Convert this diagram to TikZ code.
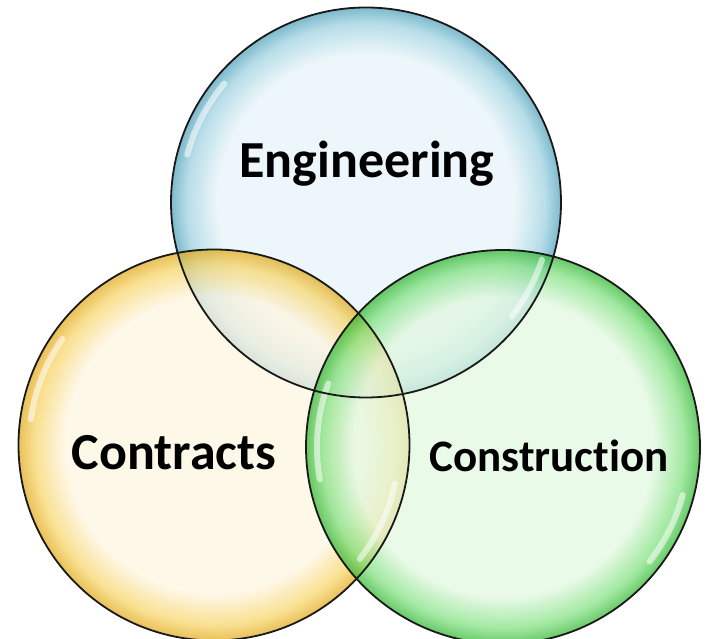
\documentclass[tikz,border=0pt]{standalone}
\usepackage{fontspec}
\setmainfont{Carlito}[Ligatures=NoCommon]
\definecolor{engfill}{HTML}{E6F3F8}
\definecolor{engrim}{HTML}{9BD0E0}
\definecolor{engdeep}{HTML}{4C9FB8}
\definecolor{conFill}{HTML}{FEF5E0}
\definecolor{conrim}{HTML}{F7D465}
\definecolor{condeep}{HTML}{E0A818}
\definecolor{cstfill}{HTML}{E2F8E0}
\definecolor{cstrim}{HTML}{7EE07E}
\definecolor{cstdeep}{HTML}{2FB52F}
\pgfdeclareradialshading{engball}{\pgfpoint{0bp}{0bp}}{color(0bp)=(engfill); color(19bp)=(engfill); color(23bp)=(engrim); color(25bp)=(engdeep); color(50bp)=(engdeep)}
\pgfdeclareradialshading{conball}{\pgfpoint{0bp}{0bp}}{color(0bp)=(conFill); color(19bp)=(conFill); color(23bp)=(conrim); color(25bp)=(condeep); color(50bp)=(condeep)}
\pgfdeclareradialshading{cstball}{\pgfpoint{0bp}{0bp}}{color(0bp)=(cstfill); color(19bp)=(cstfill); color(23bp)=(cstrim); color(25bp)=(cstdeep); color(50bp)=(cstdeep)}
\begin{document}
\begin{tikzpicture}[x=1pt,y=1pt,
ball/.style={circle,fill opacity=0.72,inner sep=0pt,outer sep=0pt},
rim/.style={draw=black!90,line width=1.8pt},
gloss/.style={white,line width=6pt,opacity=0.55,line cap=round},
tag/.style={anchor=base,inner sep=0pt,font=\bfseries\fontsize{52}{56}\selectfont}
]
\useasboundingbox (0,0) rectangle (709,639);
\node[ball,minimum size=390pt,shade,shading=engball] (eng) at (366,436.5) {};
\node[ball,minimum size=391pt,shade,shading=conball] (con) at (214,194) {};
\node[ball,minimum size=394pt,shade,shading=cstball] (cst) at (503,192) {};
\draw[gloss] (eng.center) ++(140:185) arc[start angle=140,end angle=165,radius=185];
\draw[gloss] (eng.center) ++(-18:185) arc[start angle=-18,end angle=-38,radius=185];
\draw[gloss] (con.center) ++(145:185) arc[start angle=145,end angle=172,radius=185];
\draw[gloss] (con.center) ++(-12:185) arc[start angle=-12,end angle=-38,radius=185];
\draw[gloss] (cst.center) ++(160:186) arc[start angle=160,end angle=190,radius=186];
\draw[gloss] (cst.center) ++(-15:186) arc[start angle=-15,end angle=-38,radius=186];
\draw[rim] (eng.center) circle[radius=195];
\draw[rim] (con.center) circle[radius=195.5];
\draw[rim] (cst.center) circle[radius=197];
\node[tag] (engtext) at (367,461) {Engineering};
\node[tag] (context) at (174,169) {Contracts};
\node[tag,font=\bfseries\fontsize{45}{49}\selectfont] (csttext) at (549,167) {Construction};
\end{tikzpicture}
\end{document}
